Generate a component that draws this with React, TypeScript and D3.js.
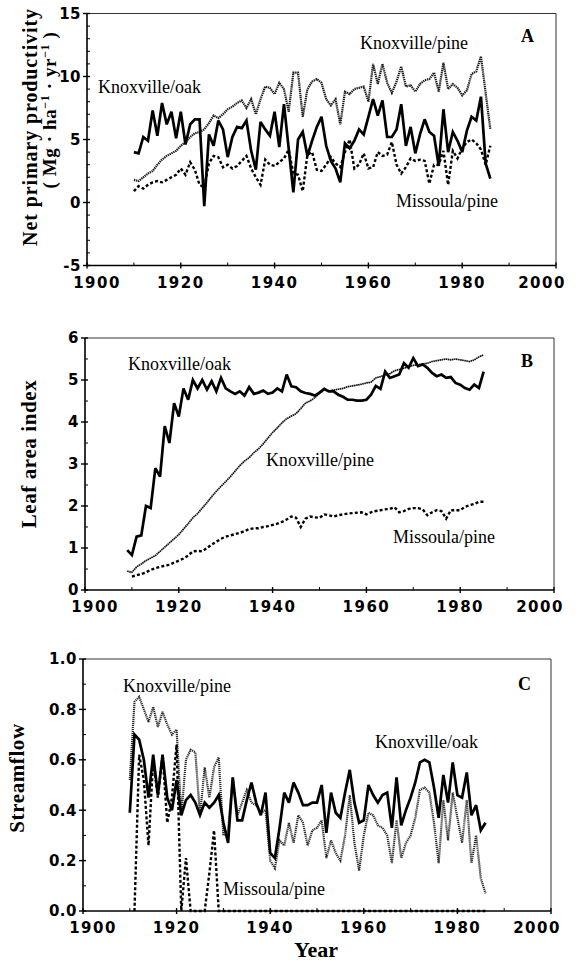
import React from 'react';
import * as d3 from 'd3';

// ---------- DATA ----------
// Panel A: Net primary productivity (Mg ha-1 yr-1), annual values from 1910
const nppStart = 1910;
const nppOak = [
  4.0, 3.9, 5.2, 4.9, 7.3, 5.3, 7.9, 6.2, 7.2, 5.1,
  7.2, 4.6, 6.2, 6.6, 6.6, -0.3, 5.4, 4.5, 6.5, 5.8,
  3.6, 5.2, 6.0, 5.9, 6.5, 4.1, 2.6, 6.4, 5.8, 5.3,
  7.2, 4.4, 7.8, 4.3, 0.8, 5.0, 5.6, 3.7, 4.9, 6.0,
  6.8, 4.5, 3.3, 2.7, 1.6, 4.7, 4.3, 4.9, 5.8, 5.4,
  6.8, 8.2, 6.9, 8.1, 5.2, 5.2, 5.8, 7.8, 4.5, 6.0,
  3.9, 5.4, 6.6, 5.6, 5.3, 2.9, 7.4, 4.0, 5.6, 4.9,
  4.0, 5.7, 6.8, 6.5, 8.4, 3.1, 1.9,
];
const nppKnoxPine = [
  1.8, 1.7, 2.0, 2.3, 2.5, 3.0, 3.4, 3.7, 3.9, 4.1,
  4.5, 4.8, 5.2, 5.5, 5.6, 5.8, 6.3, 6.9, 6.7, 7.0,
  7.4, 7.6, 7.9, 8.1, 7.5, 8.2, 7.0, 8.2, 9.2, 9.1,
  8.6, 9.5, 9.0, 7.2, 10.3, 10.3, 6.8, 9.0, 9.6, 9.8,
  9.5, 8.2, 7.7, 8.2, 6.2, 8.8, 8.6, 9.0, 9.1, 9.2,
  8.0, 11.0, 9.4, 11.0, 9.5, 8.7, 9.6, 10.8, 9.2, 9.3,
  8.8, 9.4, 9.7, 9.8, 10.3, 8.8, 11.1, 9.0, 9.4, 9.1,
  8.5, 8.9, 10.2, 10.4, 11.6, 8.7, 5.8,
];
const nppMissPine = [
  0.9, 1.3, 1.1, 1.4, 1.6, 1.7, 1.6, 1.8, 2.0, 2.2,
  2.7, 2.2, 3.2, 2.6, 1.4, 1.2, 3.1, 3.7, 3.6, 2.8,
  3.0, 2.7, 2.9, 3.3, 3.7, 2.7, 2.0, 1.4, 3.4, 3.0,
  2.9, 3.2, 3.5, 4.2, 2.3, 2.2, 0.9, 3.8, 4.0, 2.6,
  2.5, 3.0, 3.6, 3.1, 2.8, 4.0, 5.0, 2.7, 3.0, 3.9,
  2.7, 2.8, 4.0, 3.7, 3.8, 4.8, 3.0, 2.3, 2.8, 3.5,
  3.3, 3.4, 3.3, 1.5, 3.0, 3.0, 4.1, 1.4, 4.1, 3.5,
  4.3, 4.8, 5.0, 4.7, 4.2, 3.0, 4.5,
];

// Panel B: Leaf area index
const laiKnoxStart = 1909;
const laiOak = [
  0.95, 0.83, 1.27, 1.3, 2.0, 1.95, 2.9, 2.7, 3.9, 3.5, 4.45,
  4.13, 4.8, 4.53, 5.0, 4.8, 5.0, 4.77, 4.97, 4.73, 5.05,
  4.8, 4.73, 4.67, 4.73, 4.63, 4.83, 4.67, 4.7, 4.75, 4.67,
  4.7, 4.8, 4.73, 5.13, 4.85, 4.83, 4.73, 4.69, 4.67, 4.63,
  4.7, 4.79, 4.73, 4.73, 4.65, 4.6, 4.53, 4.53, 4.51, 4.51,
  4.53, 4.65, 4.86, 4.79, 5.2, 5.05, 5.09, 5.13, 5.4, 5.29,
  5.52, 5.33, 5.37, 5.29, 5.17, 5.09, 5.13, 5.05, 5.07, 4.93,
  4.89, 4.81, 4.77, 4.89, 4.81, 5.2,
];
const laiKnoxPine = [
  0.45, 0.42, 0.55, 0.62, 0.70, 0.76, 0.82, 0.92, 1.02, 1.12, 1.22,
  1.32, 1.45, 1.58, 1.72, 1.82, 1.95, 2.08, 2.22, 2.35, 2.47,
  2.58, 2.70, 2.83, 2.96, 3.07, 3.15, 3.27, 3.36, 3.48, 3.62,
  3.75, 3.86, 3.98, 4.08, 4.14, 4.20, 4.32, 4.45, 4.50, 4.58,
  4.68, 4.76, 4.74, 4.76, 4.78, 4.80, 4.84, 4.86, 4.88, 4.90,
  4.93, 4.95, 5.05, 5.08, 5.12, 5.15, 5.22, 5.25, 5.28, 5.32,
  5.35, 5.36, 5.38, 5.40, 5.44, 5.46, 5.48, 5.50, 5.48, 5.50,
  5.48, 5.46, 5.44, 5.48, 5.55, 5.60,
];
const laiMissStart = 1910;
const laiMissPine = [
  0.32, 0.35, 0.38, 0.42, 0.48, 0.52, 0.55, 0.58, 0.60, 0.65,
  0.70, 0.75, 0.82, 0.92, 0.93, 0.92, 1.00, 1.08, 1.15, 1.22,
  1.27, 1.30, 1.33, 1.36, 1.40, 1.45, 1.47, 1.47, 1.50, 1.52,
  1.55, 1.58, 1.62, 1.68, 1.75, 1.72, 1.50, 1.70, 1.75, 1.73,
  1.72, 1.80, 1.78, 1.75, 1.78, 1.80, 1.82, 1.83, 1.84, 1.85,
  1.80, 1.85, 1.88, 1.90, 1.92, 1.93, 1.97, 1.85, 1.88, 1.93,
  1.95, 1.95, 1.92, 1.78, 1.85, 1.90, 1.88, 1.70, 1.90, 1.90,
  1.90, 1.98, 2.02, 2.05, 2.10, 2.10,
];

// Panel C: Streamflow
const flowKnoxStart = 1910;
const flowOak = [
  0.39, 0.70, 0.68, 0.60, 0.45, 0.62, 0.46, 0.62, 0.45, 0.40,
  0.52, 0.38, 0.44, 0.46, 0.43, 0.38, 0.43, 0.41, 0.43, 0.46,
  0.35, 0.27, 0.53, 0.36, 0.36, 0.44, 0.51, 0.43, 0.38, 0.47,
  0.23, 0.21, 0.33, 0.47, 0.43, 0.51, 0.47, 0.42, 0.42, 0.43,
  0.43, 0.50, 0.31, 0.47, 0.39, 0.37, 0.47, 0.56, 0.43, 0.35,
  0.36, 0.50, 0.46, 0.43, 0.46, 0.47, 0.33, 0.53, 0.34, 0.40,
  0.45, 0.51, 0.59, 0.60, 0.59, 0.49, 0.37, 0.54, 0.43, 0.59,
  0.46, 0.45, 0.55, 0.38, 0.42, 0.32, 0.35,
];
const flowKnoxPine = [
  0.52, 0.83, 0.85, 0.80, 0.75, 0.81, 0.73, 0.79, 0.74, 0.70,
  0.72, 0.38, 0.60, 0.64, 0.63, 0.38, 0.57, 0.45, 0.57, 0.61,
  0.30, 0.32, 0.53, 0.38, 0.43, 0.48, 0.43, 0.42, 0.39, 0.40,
  0.20, 0.17, 0.28, 0.26, 0.35, 0.27, 0.38, 0.35, 0.26, 0.32,
  0.33, 0.36, 0.21, 0.28, 0.23, 0.20, 0.30, 0.46, 0.27, 0.16,
  0.30, 0.39, 0.38, 0.34, 0.33, 0.30, 0.19, 0.36, 0.21, 0.27,
  0.30, 0.37, 0.48, 0.49, 0.47, 0.35, 0.19, 0.44, 0.28, 0.47,
  0.37, 0.27, 0.44, 0.19, 0.30, 0.13, 0.07,
];
const flowMissStart = 1911;
const flowMissPine = [
  0, 0.62, 0.52, 0.26, 0.60, 0.45, 0.62, 0.35, 0.45,
  0.66, 0, 0.21, 0, 0, 0, 0, 0.15, 0.32, 0,
  0, 0, 0, 0, 0, 0, 0, 0, 0, 0,
  0, 0, 0, 0, 0, 0, 0, 0, 0, 0,
  0, 0, 0, 0, 0, 0, 0, 0, 0, 0,
  0, 0, 0, 0, 0, 0, 0, 0, 0, 0,
  0, 0, 0, 0, 0, 0, 0, 0, 0, 0,
  0, 0, 0, 0, 0, 0, 0,
];

const xTicks = [1900, 1920, 1940, 1960, 1980, 2000];
const xMinor = [1910, 1930, 1950, 1970, 1990];
const yTicksA = [-5, 0, 5, 10, 15];
const yTicksB = [0, 1, 2, 3, 4, 5, 6];
const yTicksC = [0, 0.2, 0.4, 0.6, 0.8, 1.0];

// ---------- STYLES ----------
const lineStyle: Record<string, any> = {
  oak: { stroke: '#000', strokeWidth: 2.7, strokeDasharray: undefined },
  pine: { stroke: '#1e1e1e', strokeWidth: 2.2, strokeDasharray: '1.4 0.7' },
  pineC: { stroke: '#2a2a2a', strokeWidth: 2.2, strokeDasharray: '1.2 0.8' },
  pineThin: { stroke: '#111', strokeWidth: 1.7, strokeDasharray: '1.6 0.5' },
  miss: { stroke: '#000', strokeWidth: 2.4, strokeDasharray: '3 2.2' },
};

const TICK_FONT = '"DejaVu Sans", sans-serif';
const SERIF = '"Liberation Serif", "Times New Roman", serif';

type SeriesDef = { start: number; values: number[]; style: string };
type Note = { text: string; x: number; y: number; bold?: boolean };

type PanelCfg = {
  x0: number; x1: number; yTop: number; yBot: number;
  domain: [number, number];
  yTicks: number[]; yMinorStep: number; fmt: (v: number) => string;
  series: SeriesDef[];
  notes: Note[];
};

function Panel({ cfg }: { cfg: PanelCfg }) {
  const x = d3.scaleLinear().domain([1900, 2000]).range([cfg.x0, cfg.x1]);
  const y = d3.scaleLinear().domain(cfg.domain).range([cfg.yBot, cfg.yTop]);
  const minorY = d3.range(cfg.domain[0], cfg.domain[1] + 1e-9, cfg.yMinorStep)
    .filter((v) => !cfg.yTicks.some((t) => Math.abs(t - v) < 1e-9));
  const last = xTicks.length - 1;
  return (
    <g>
      {/* frame */}
      <line x1={cfg.x0} x2={cfg.x1} y1={cfg.yTop} y2={cfg.yTop} stroke="#333" strokeWidth={1} />
      <line x1={cfg.x1} x2={cfg.x1} y1={cfg.yTop} y2={cfg.yBot} stroke="#333" strokeWidth={1} />
      <line x1={cfg.x0} x2={cfg.x0} y1={cfg.yTop} y2={cfg.yBot} stroke="#000" strokeWidth={1.6} />
      <line x1={cfg.x0} x2={cfg.x1} y1={cfg.yBot} y2={cfg.yBot} stroke="#000" strokeWidth={1.6} />
      {/* y ticks */}
      {cfg.yTicks.map((t) => (
        <g key={'yt' + t}>
          <line x1={cfg.x0 - 4} x2={cfg.x0 + 3} y1={y(t)} y2={y(t)} stroke="#000" strokeWidth={1.4} />
          <text x={cfg.x0 - 6} y={y(t)} dy="0.36em" textAnchor="end" fontFamily={TICK_FONT}
            fontWeight="bold" fontSize={15} letterSpacing={0.5}>{cfg.fmt(t)}</text>
        </g>
      ))}
      {minorY.map((t) => (
        <line key={'ym' + t} x1={cfg.x0} x2={cfg.x0 + 3} y1={y(t)} y2={y(t)} stroke="#000" strokeWidth={1} />
      ))}
      {/* x ticks */}
      {xTicks.map((t, i) => (
        <g key={'xt' + t}>
          <line x1={x(t)} x2={x(t)} y1={cfg.yBot - 3} y2={cfg.yBot + 3} stroke="#000" strokeWidth={1.4} />
          <text x={x(t) + (i === 0 ? 10 : i === last ? -14 : 0)} y={cfg.yBot + 22} textAnchor="middle"
            fontFamily={TICK_FONT} fontWeight="bold" fontSize={15} letterSpacing={1.5}>{t}</text>
        </g>
      ))}
      {xMinor.map((t) => (
        <line key={'xm' + t} x1={x(t)} x2={x(t)} y1={cfg.yBot - 3} y2={cfg.yBot} stroke="#000" strokeWidth={1} />
      ))}
      {/* series */}
      {cfg.series.map((s, k) => {
        const gen = d3.line<number>()
          .x((_, i) => x(s.start + i))
          .y((d) => y(d));
        const st = lineStyle[s.style];
        return (
          <path key={'s' + k} d={gen(s.values) || ''} fill="none" stroke={st.stroke}
            strokeWidth={st.strokeWidth} strokeDasharray={st.strokeDasharray}
            strokeLinejoin="miter" strokeMiterlimit={3} />
        );
      })}
      {cfg.notes.map((n, k) => (
        <text key={'n' + k} x={n.x} y={n.y} fontFamily={SERIF} fontSize={18}
          fontWeight={n.bold ? 'bold' : 'normal'}>{n.text}</text>
      ))}
    </g>
  );
}

const panelA: PanelCfg = {
  x0: 87, x1: 556, yTop: 13.5, yBot: 265.5, domain: [-5, 15],
  yTicks: yTicksA, yMinorStep: 1, fmt: (v) => String(v),
  series: [
    { start: nppStart, values: nppKnoxPine, style: 'pine' },
    { start: nppStart, values: nppMissPine, style: 'miss' },
    { start: nppStart, values: nppOak, style: 'oak' },
  ],
  notes: [
    { text: 'Knoxville/oak', x: 98, y: 93 },
    { text: 'Knoxville/pine', x: 360, y: 49 },
    { text: 'Missoula/pine', x: 396, y: 207 },
    { text: 'A', x: 521, y: 42, bold: true },
  ],
};

const panelB: PanelCfg = {
  x0: 85, x1: 554, yTop: 338, yBot: 590, domain: [0, 6],
  yTicks: yTicksB, yMinorStep: 0.5, fmt: (v) => String(v),
  series: [
    { start: laiKnoxStart, values: laiKnoxPine, style: 'pineThin' },
    { start: laiMissStart, values: laiMissPine, style: 'miss' },
    { start: laiKnoxStart, values: laiOak, style: 'oak' },
  ],
  notes: [
    { text: 'Knoxville/oak', x: 128, y: 370 },
    { text: 'Knoxville/pine', x: 266, y: 466 },
    { text: 'Missoula/pine', x: 393, y: 543 },
    { text: 'B', x: 521, y: 367, bold: true },
  ],
};

const panelC: PanelCfg = {
  x0: 83, x1: 551, yTop: 659, yBot: 911, domain: [0, 1],
  yTicks: yTicksC, yMinorStep: 0.1, fmt: (v) => v.toFixed(1),
  series: [
    { start: flowKnoxStart, values: flowKnoxPine, style: 'pineC' },
    { start: flowMissStart, values: flowMissPine, style: 'miss' },
    { start: flowKnoxStart, values: flowOak, style: 'oak' },
  ],
  notes: [
    { text: 'Knoxville/pine', x: 123, y: 692 },
    { text: 'Knoxville/oak', x: 375, y: 748 },
    { text: 'Missoula/pine', x: 223, y: 895 },
    { text: 'C', x: 518, y: 690, bold: true },
  ],
};

export default function App() {
  return (
    <svg width={579} height={961} viewBox="0 0 579 961"
      style={{ position: 'absolute', left: 0, top: 0, background: '#fff' }}>
      <rect x={0} y={0} width={579} height={961} fill="#fff" />
      <Panel cfg={panelA} />
      <Panel cfg={panelB} />
      <Panel cfg={panelC} />
      {/* axis titles */}
      <text transform="translate(37,127) rotate(-90)" textAnchor="middle" fontFamily={SERIF}
        fontWeight="bold" fontSize={20} letterSpacing={0.9}>Net primary productivity</text>
      <text transform="translate(56,110) rotate(-90)" textAnchor="middle" fontFamily={SERIF}
        fontWeight="bold" fontSize={19} letterSpacing={0.6}>
        {'( Mg · ha'}
        <tspan dy={-7} fontSize={12}>−1</tspan>
        <tspan dy={7}>{' · yr'}</tspan>
        <tspan dy={-7} fontSize={12}>−1</tspan>
        <tspan dy={7}>{' )'}</tspan>
      </text>
      <text transform="translate(36,454) rotate(-90)" textAnchor="middle" fontFamily={SERIF}
        fontWeight="bold" fontSize={21} letterSpacing={0.6}>Leaf area index</text>
      <text transform="translate(24,778) rotate(-90)" textAnchor="middle" fontFamily={SERIF}
        fontWeight="bold" fontSize={21} letterSpacing={0.6}>Streamflow</text>
      <text x={316} y={957} textAnchor="middle" fontFamily={SERIF} fontWeight="bold"
        fontSize={22}>Year</text>
    </svg>
  );
}
